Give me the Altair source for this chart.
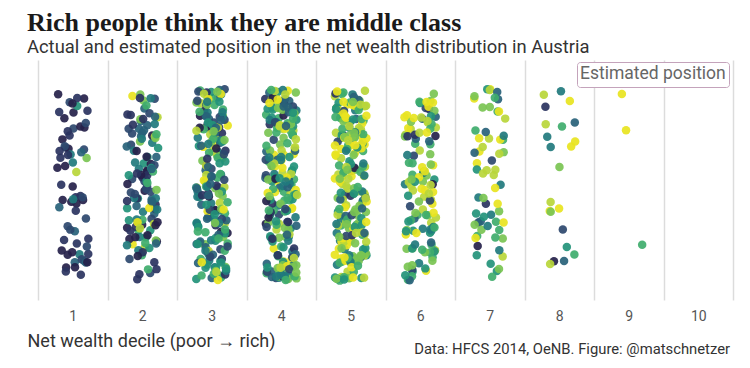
import math
import altair as alt
import pandas as pd

# Net wealth deciles (columns) and colour classes
DECILES = list(range(1, 11))

# Number of respondents per colour class (1..10) in each column
col1 = [22, 18, 12, 6, 4, 1, 0, 1, 1, 0]
col2 = [18, 18, 17, 17, 16, 12, 9, 7, 5, 4]
col3 = [12, 14, 18, 26, 28, 28, 26, 22, 14, 12]
col4 = [7, 9, 14, 22, 26, 28, 30, 28, 24, 22]
col5 = [2, 4, 6, 12, 19, 26, 35, 42, 44, 46]
col6 = [2, 3, 5, 7, 10, 14, 18, 20, 19, 20]
col7 = [1, 1, 2, 5, 6, 7, 9, 10, 10, 11]
col8 = [1, 1, 1, 2, 3, 1, 2, 2, 4, 5]
col9 = [0, 0, 0, 0, 0, 0, 1, 0, 0, 2]
col10 = [0, 0, 0, 0, 0, 0, 0, 0, 0, 0]
COLUMNS = [col1, col2, col3, col4, col5, col6, col7, col8, col9, col10]

PALETTE = ["#25214a", "#2a3360", "#2c486e", "#28627a", "#217a7d",
           "#23937a", "#3fac6c", "#7ac453", "#b9d63a", "#e8e41f"]

TITLE = "Rich people think they are middle class"
SUBTITLE = "Actual and estimated position in the net wealth distribution in Austria"
X_TITLE = "Net wealth decile (poor \u2192 rich)"
LEGEND_TITLE = "Estimated position"
CAPTION = "Data: HFCS 2014, OeNB. Figure: @matschnetzer"

# expand counts into one row per respondent, interleaving colour classes
rows = []
for d, counts in zip(DECILES, COLUMNS):
    colours = [c for c, k in zip(DECILES, counts) for _ in range(k)]
    n = len(colours)
    if n == 0:
        continue
    step = max(1, round(n * 0.381966))
    while math.gcd(step, n) != 1:
        step += 1
    for j in range(n):
        rows.append({"decile": d, "actual": colours[(j * step) % n], "rn": j})
df = pd.DataFrame(rows)

W, H = 695, 240

points = alt.Chart(df).transform_calculate(
    s1="sin(datum.rn*12.9898 + datum.decile*78.233) * 43758.5453",
    s2="sin(datum.rn*39.3468 + datum.decile*11.135) * 24634.6345",
).transform_calculate(
    jx="(datum.s1 - floor(datum.s1) - 0.5) * 0.46",
    jy="0.08 + (datum.s2 - floor(datum.s2)) * 0.80",
).mark_circle(size=72, opacity=0.92).encode(
    x=alt.X("decile:O",
            scale=alt.Scale(domain=DECILES, paddingInner=0, paddingOuter=0),
            axis=alt.Axis(title=X_TITLE, tickBand="extent", ticks=False, domain=False,
                          grid=True, gridColor="#dcdcdc", gridWidth=1.5,
                          labelAngle=0, labelFont="Roboto", labelFontSize=14,
                          labelColor="#555555", labelPadding=9,
                          titleFont="Roboto", titleFontSize=18, titleFontWeight="normal",
                          titleColor="#333333", titleAnchor="start", titleAlign="left",
                          titleX=-11, titleY=46, titleBaseline="alphabetic")),
    xOffset=alt.XOffset("jx:Q", scale=alt.Scale(domain=[-0.5, 0.5])),
    y=alt.Y("jy:Q", scale=alt.Scale(domain=[0, 1]), axis=None),
    color=alt.Color("actual:Q",
                    scale=alt.Scale(domain=DECILES, range=PALETTE),
                    legend=alt.Legend(title=LEGEND_TITLE, orient="none", legendX=539, legendY=2,
                                      direction="horizontal", labelExpr="''",
                                      labelOpacity=0, labelFontSize=1, labelOffset=0,
                                      gradientLength=1, gradientThickness=0, gradientOpacity=0,
                                      gradientStrokeWidth=0,
                                      titleFont="Roboto", titleFontSize=17.5,
                                      titleFontWeight="normal", titleColor="#666666",
                                      titlePadding=0, padding=3, cornerRadius=3,
                                      strokeColor="#c4a3bb", fillColor="white")),
)

caption = alt.Chart(pd.DataFrame({"t": [CAPTION]})).mark_text(
    align="right", baseline="alphabetic", font="Roboto", fontSize=14.8, color="#333333"
).encode(x=alt.value(W - 3), y=alt.value(H + 54), text="t:N")

chart = alt.layer(points, caption).properties(
    width=W, height=H,
    title=alt.TitleParams(text=TITLE, subtitle=SUBTITLE, anchor="start", frame="group",
                          font="Liberation Serif", fontSize=26, fontWeight="bold",
                          color="#1a1a1a", subtitleFont="Roboto", subtitleFontSize=18.4,
                          subtitleColor="#333333", subtitlePadding=2, dx=-11, offset=4),
    padding={"left": 30, "top": 52, "right": 9, "bottom": 58},
    autosize=alt.AutoSizeParams(type="none"),
    background="white",
).configure_view(stroke=None)

chart.save("out.html", embed_options={"renderer": "svg", "actions": False})
